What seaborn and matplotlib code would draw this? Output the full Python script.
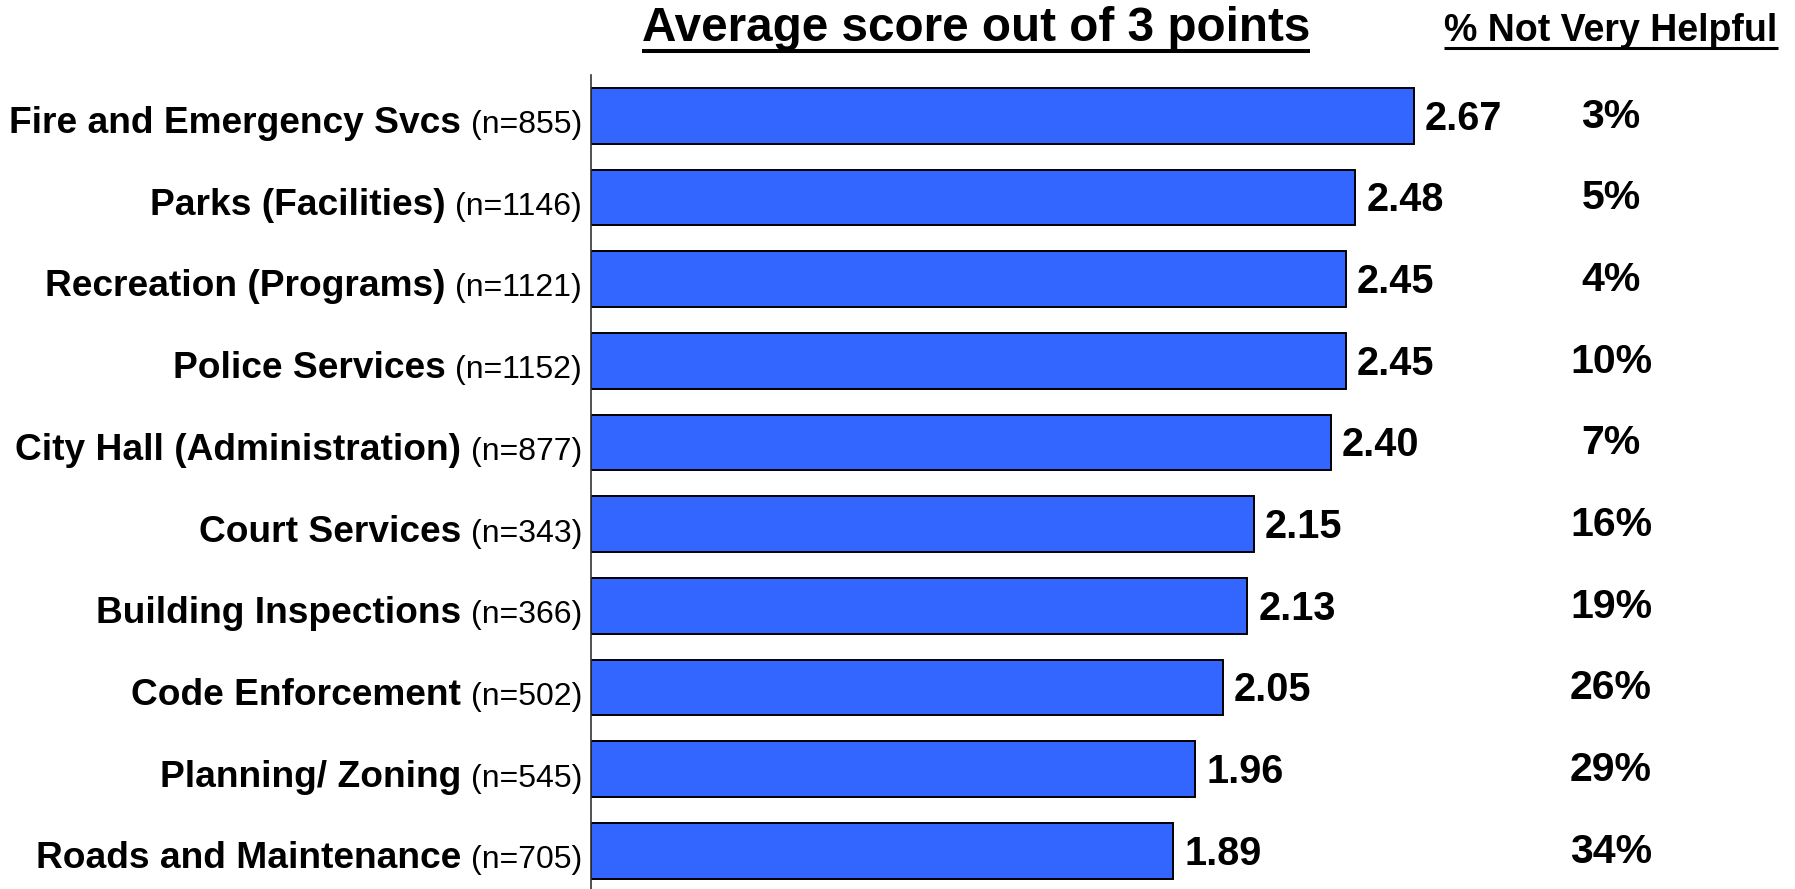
import numpy as np
import pandas as pd
import matplotlib
matplotlib.use("Agg")
import matplotlib.pyplot as plt
from matplotlib.lines import Line2D
import seaborn as sns

# === Data ===
services = ["Fire and Emergency Svcs", "Parks (Facilities)", "Recreation (Programs)",
            "Police Services", "City Hall (Administration)", "Court Services",
            "Building Inspections", "Code Enforcement", "Planning/ Zoning",
            "Roads and Maintenance"]
n_sizes = [855, 1146, 1121, 1152, 877, 343, 366, 502, 545, 705]
avg_scores = [2.67, 2.48, 2.45, 2.45, 2.40, 2.15, 2.13, 2.05, 1.96, 1.89]
pct_not_helpful = [3, 5, 4, 10, 7, 16, 19, 26, 29, 34]

df = pd.DataFrame({"service": services, "n": n_sizes,
                   "score": avg_scores, "pct": pct_not_helpful})

# === Style ===
sns.set_style("white")
plt.rcParams["font.family"] = ["Liberation Sans", "DejaVu Sans"]
plt.rcParams["text.color"] = "black"

W, H = 1795, 889
fig = plt.figure(figsize=(W / 100, H / 100), dpi=100)
ax = fig.add_axes([591 / W, -0.003, 924.5 / W, 0.9187])

sns.barplot(data=df, x="score", y="service", orient="h", ax=ax,
            color="#3366FF", saturation=1, edgecolor="black",
            linewidth=1.4, width=0.68)

ax.set_xlim(0, 3)
ax.set_ylim(9.5, -0.5)
ax.set_xticks([])
ax.set_yticks([])
ax.set_xlabel("")
ax.set_ylabel("")
for side in ["top", "right", "bottom"]:
    ax.spines[side].set_visible(False)
ax.spines["left"].set_color("#333333")
ax.spines["left"].set_linewidth(1.2)

# === Row labels, values and percentages ===
for i, row in df.iterrows():
    ntxt = ax.annotate(f"(n={row['n']})", xy=(0, i), xycoords="data",
                       xytext=(-6.5, -12.5), textcoords="offset points",
                       ha="right", va="baseline", fontsize=23, color="black",
                       annotation_clip=False)
    ax.annotate(row["service"], xy=(0, i), xycoords=(ntxt, "data"),
                xytext=(-7, -12.5), textcoords="offset points",
                ha="right", va="baseline", fontsize=26.7, fontweight="bold",
                color="black", annotation_clip=False)
    ax.annotate(f"{row['score']:.2f}", xy=(row["score"], i), xycoords="data",
                xytext=(8, -10), textcoords="offset points",
                ha="left", va="baseline", fontsize=28.5, fontweight="bold",
                color="black", annotation_clip=False)
    ax.annotate(f"{row['pct']}%", xy=(1.1033, i), xycoords=("axes fraction", "data"),
                xytext=(0, -8.5), textcoords="offset points",
                ha="center", va="baseline", fontsize=29.5, fontweight="bold",
                color="black", annotation_clip=False)

# === Headers with underline ===
title = fig.text(976 / W, 1 - 41 / H, "Average score out of 3 points",
                 ha="center", va="baseline", fontsize=34.3, fontweight="bold",
                 color="black")
header = fig.text(1611 / W, 1 - 40.7 / H, "% Not Very Helpful",
                  ha="center", va="baseline", fontsize=27, fontweight="bold",
                  color="black")

fig.canvas.draw()
renderer = fig.canvas.get_renderer()
for txt, y_px, lw in [(title, 51, 2.9), (header, 47.5, 2.2)]:
    bb = txt.get_window_extent(renderer)
    x0, x1 = bb.x0 / W, bb.x1 / W
    y = 1 - y_px / H
    fig.add_artist(Line2D([x0, x1], [y, y], transform=fig.transFigure,
                          color="black", linewidth=lw, solid_capstyle="butt"))

plt.savefig("out.png", dpi=100)
